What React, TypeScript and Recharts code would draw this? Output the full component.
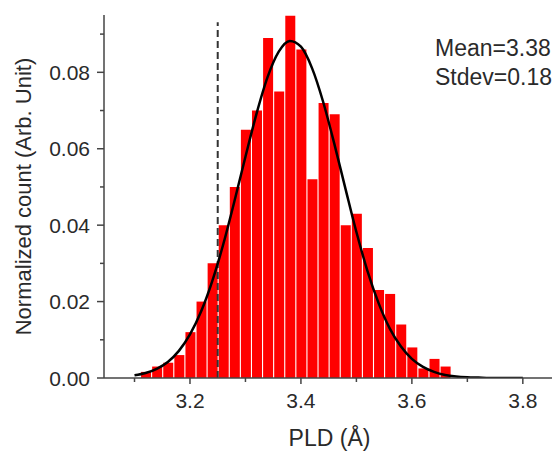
import {
  ComposedChart,
  Bar,
  Line,
  XAxis,
  YAxis,
  ReferenceLine,
} from 'recharts';

// PLD grid, 0.02 Å apart; bars sit on the even hundredths
const pldValues = [
  3.10, 3.12, 3.14, 3.16, 3.18, 3.20, 3.22, 3.24, 3.26, 3.28, 3.30, 3.32,
  3.34, 3.36, 3.38, 3.40, 3.42, 3.44, 3.46, 3.48, 3.50, 3.52, 3.54, 3.56,
  3.58, 3.60, 3.62, 3.64, 3.66, 3.68, 3.70, 3.72, 3.74, 3.76, 3.78, 3.80,
];

// histogram heights (null = no bar)
const countValues = [
  null, 0.0016, 0.003, 0.004, 0.006, 0.012, 0.020, 0.030, 0.040, 0.050, 0.065, 0.070,
  0.089, 0.075, 0.0948, 0.086, 0.052, 0.072, 0.069, 0.040, 0.043, 0.034, 0.023, 0.022,
  0.014, 0.008, 0.0025, 0.005, 0.003, null, null, null, null, null, null, null,
];

// gaussian fit curve
const fitValues = [
  0.0007, 0.0013, 0.0024, 0.0042, 0.0071, 0.0114, 0.0174, 0.0253, 0.0350, 0.0462, 0.0579, 0.0692,
  0.0788, 0.0854, 0.0882, 0.0867, 0.0811, 0.0723, 0.0614, 0.0497, 0.0382, 0.0280, 0.0196, 0.0130,
  0.0083, 0.0050, 0.0029, 0.0016, 0.0008, 0.0004, 0.0002, 0.0001, 0, 0, 0, 0,
];

const xTicks = [3.1, 3.2, 3.3, 3.4, 3.5, 3.6, 3.7, 3.8];
const yTicks = [0, 0.01, 0.02, 0.03, 0.04, 0.05, 0.06, 0.07, 0.08, 0.09];
const cutoff = 3.25;

const axisColor = '#444';
const textColor = '#2a2a2a';
const font = '"Liberation Sans", Arial, sans-serif';

const data = pldValues.map((x, i) => ({
  pld: x,
  count: countValues[i],
  fit: fitValues[i],
}));

function XTick({ x, y, payload }: any) {
  const v = payload.value as number;
  const major = Math.round(v * 10) % 2 === 0;
  return (
    <g>
      <line x1={x} y1={y} x2={x} y2={y + (major ? 6 : 4)} stroke={axisColor} strokeWidth={1.5} />
      {major && (
        <text x={x} y={y + 30} textAnchor="middle" fontSize={21} fill={textColor}>
          {v.toFixed(1)}
        </text>
      )}
    </g>
  );
}

function YTick({ x, y, payload }: any) {
  const v = payload.value as number;
  const major = Math.round(v * 100) % 2 === 0;
  return (
    <g>
      <line x1={x} y1={y} x2={x - (major ? 7 : 4)} y2={y} stroke={axisColor} strokeWidth={1.5} />
      {major && (
        <text x={x - 14} y={y + 7.5} textAnchor="end" fontSize={21} fill={textColor}>
          {v.toFixed(2)}
        </text>
      )}
    </g>
  );
}

export default function App() {
  return (
    <div style={{ position: 'relative', width: 552, height: 443, fontFamily: font }}>
      <ComposedChart
        width={552}
        height={443}
        data={data}
        margin={{ top: 7, right: 5, bottom: 0, left: 0 }}
      >
        <XAxis
          dataKey="pld"
          type="number"
          domain={[3.045, 3.858]}
          ticks={xTicks}
          interval={0}
          height={73}
          tickSize={0}
          tickMargin={0}
          tickLine={false}
          tick={<XTick />}
          axisLine={{ stroke: axisColor, strokeWidth: 1.5 }}
          allowDataOverflow
          label={{
            value: 'PLD (Å)',
            position: 'insideBottom',
            offset: 5,
            fontSize: 23,
            fill: textColor,
          }}
        />
        <YAxis
          type="number"
          domain={[0, 0.095]}
          ticks={yTicks}
          interval={0}
          width={96}
          tickSize={0}
          tickMargin={0}
          tickLine={false}
          tick={<YTick />}
          axisLine={{ stroke: axisColor, strokeWidth: 1.5 }}
          allowDataOverflow
          label={{
            value: 'Normalized count (Arb. Unit)',
            angle: -90,
            position: 'insideLeft',
            offset: 15,
            fontSize: 22,
            fill: textColor,
            style: { textAnchor: 'middle' },
          }}
        />
        <Bar dataKey="count" fill="#ff0000" barSize={10} isAnimationActive={false} />
        <ReferenceLine
          segment={[
            { x: cutoff, y: 0 },
            { x: cutoff, y: 0.0931 },
          ]}
          stroke="#333"
          strokeWidth={2}
          strokeDasharray="7 4"
        />
        <Line
          dataKey="fit"
          type="monotone"
          stroke="#000"
          strokeWidth={2.5}
          dot={false}
          activeDot={false}
          isAnimationActive={false}
        />
      </ComposedChart>
      <div
        style={{
          position: 'absolute',
          left: 427,
          top: 26,
          fontSize: 23,
          lineHeight: '29px',
          color: textColor,
        }}
      >
        <div>Mean=3.38</div>
        <div>Stdev=0.18</div>
      </div>
    </div>
  );
}
